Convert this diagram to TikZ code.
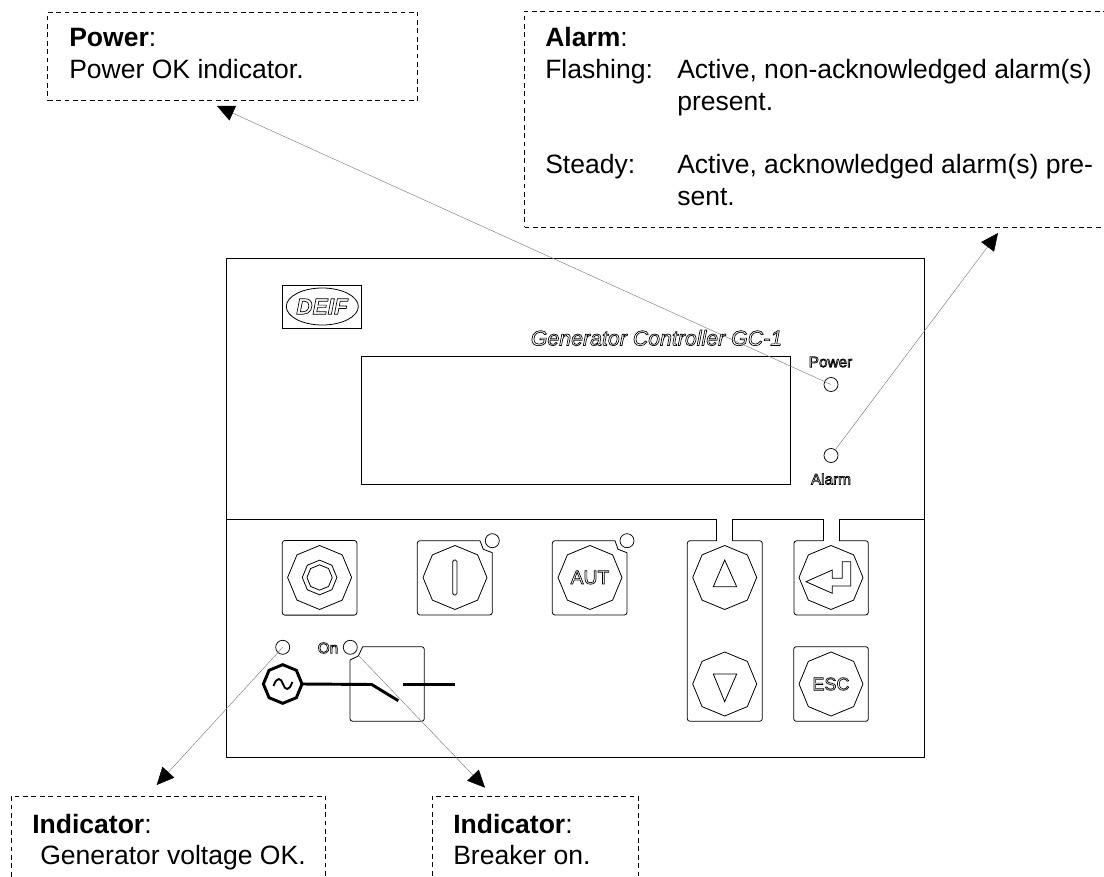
\documentclass[tikz,border=0pt]{standalone}
\usepackage{fontspec}
\setmainfont{Liberation Sans}
\usepackage{xcolor}
\definecolor{lgray}{HTML}{808080}
\usepackage{tikz}
\usetikzlibrary{arrows.meta}
\usetikzlibrary{shapes.geometric}
\newcommand{\outl}{\special{pdf:literal direct 1 Tr 0.5 w}}
\tikzset{
  panelline/.style={line width=.7pt},
  keyline/.style={line width=.6pt},
  genline/.style={line width=2.2pt,line cap=butt},
  callout/.style={draw,dashed,line width=.6pt,dash pattern=on 3.6pt off 2.7pt,inner sep=0,outer sep=0},
  calltext/.style={anchor=base west,inner sep=0,font=\fontsize{19.9}{22}\selectfont},
  leader/.style={draw=lgray,line width=.35pt,-{Triangle[length=13pt,width=12pt,color=black]}},
  led/.style={draw,circle,line width=.55pt,minimum size=10.5pt,inner sep=0},
  octkey/.style={draw,regular polygon,regular polygon sides=8,shape border rotate=22.5,minimum size=48pt,inner sep=0,outer sep=0,line width=.6pt},
  keybox/.style={draw,rectangle,rounded corners=2pt,minimum size=56pt,inner sep=0,line width=.6pt},
  outlined/.style={inner sep=0,font=\fontsize{#1}{#1}\selectfont\outl}
}
\begin{document}
\begin{tikzpicture}[x=.75pt,y=-.75pt]
\clip (0,0) rectangle (1104,877);
\node[callout,minimum width=277.5pt,minimum height=66pt] (powerbox) at (232.7,56) {};
\node[callout,minimum width=500pt,minimum height=162pt] (alarmbox) at (858,119) {};
\node[callout,minimum width=236pt,minimum height=120pt] (genbox) at (168.5,876) {};
\node[callout,minimum width=154.5pt,minimum height=120pt] (brkbox) at (535,876) {};
\node[calltext] (powerhead) at (69,47) {\textbf{Power}:};
\node[calltext] (powertext) at (69,79) {Power OK indicator.};
\node[calltext] (alarmhead) at (545,47) {\textbf{Alarm}:};
\node[calltext] (flashlabel) at (545,79) {Flashing:};
\node[calltext] (flashtext) at (677,79) {Active, non-acknowledged alarm(s)};
\node[calltext] (flashmore) at (677,111) {present.};
\node[calltext] (steadylabel) at (545,174) {Steady:};
\node[calltext] (steadytext) at (677,174) {Active, acknowledged alarm(s) pre-};
\node[calltext] (steadymore) at (677,206) {sent.};
\node[calltext] (genhead) at (32,833) {\textbf{Indicator}:};
\node[calltext] (gentext) at (40,864) {Generator voltage OK.};
\node[calltext] (brkhead) at (453,833) {\textbf{Indicator}:};
\node[calltext] (brktext) at (453,864) {Breaker on.};
\draw[panelline] (226,258.7) rectangle (924,757);
\draw[panelline] (361,356) rectangle (790,484);
\draw[keyline] (282.3,285) rectangle (361.7,328.3);
\draw[keyline] (322.3,306.5) ellipse (36 and 18.5);
\node[outlined=17] (deif) at (322.3,306.5) {\textbf{\textit{DEIF}}};
\node[outlined=16,anchor=base] (title) at (656.5,345.5) {\textit{Generator Controller GC-1}};
\node[outlined=11.5] (powerlabel) at (830.5,362) {Power};
\node[outlined=11.5] (alarmlabel) at (831,479) {Alarm};
\node[outlined=11.5] (onlabel) at (328,648) {On};
\node[led] (powerled) at (831,384.5) {};
\node[led] (alarmled) at (831,455.5) {};
\node[led] (autoled) at (492.3,540.7) {};
\node[led] (autled) at (627,540.7) {};
\node[led] (genled) at (282.7,647.3) {};
\node[led] (onled) at (350.3,647.3) {};
\draw[panelline] (226,519) -- (716.7,519) -- (716.7,540.7);
\draw[keyline,rounded corners=2pt] (716.7,540.7) -- (687.3,540.7) -- (687.3,721.3) -- (762.3,721.3) -- (762.3,540.7) -- (732.7,540.7);
\draw[panelline] (732.7,540.7) -- (732.7,519) -- (823.3,519) -- (823.3,540.7);
\draw[keyline,rounded corners=2pt] (823.3,540.7) -- (794,540.7) -- (794,615) -- (868.3,615) -- (868.3,540.7) -- (839,540.7);
\draw[panelline] (839,540.7) -- (839,519) -- (924,519);
\node[keybox] (stopbox) at (319.6,577.8) {};
\node[keybox] (escbox) at (831,684) {};
\draw[keyline,rounded corners=2pt] (480,540.7) -- (417.3,540.7) -- (417.3,615) -- (492.3,615) -- (492.3,552.7);
\draw[keyline] (480,540.7) -- (483.3,549.3) -- (492.3,552.7);
\draw[keyline,rounded corners=2pt] (615,540.7) -- (552.3,540.7) -- (552.3,615) -- (627,615) -- (627,552.7);
\draw[keyline] (615,540.7) -- (618,549.3) -- (627,552.7);
\draw[keyline,rounded corners=2pt] (362.7,646.7) -- (424.3,646.7) -- (424.3,721.3) -- (350,721.3) -- (350,660);
\draw[keyline] (362.7,646.7) -- (358.3,656) -- (350,660);
\node[octkey] (stopkey) at (319.6,577.5) {};
\node[octkey,minimum size=26pt] (stopouter) at (319.6,577.5) {};
\node[octkey,minimum size=19pt] (stopinner) at (319.6,577.5) {};
\node[octkey] (startkey) at (455,577.5) {};
\draw[keyline,rounded corners=1.2pt] (452.7,560) rectangle (457,595);
\node[octkey] (autkey) at (590,577.5) {\outl\fontsize{14.5}{14.5}\selectfont AUT};
\node[octkey] (upkey) at (724.7,577.5) {};
\node[octkey] (downkey) at (724.7,684) {};
\node[octkey] (enterkey) at (831,577.5) {};
\node[octkey] (esckey) at (831,684) {\outl\fontsize{13.5}{13.5}\selectfont ESC};
\draw[keyline] (724.7,560) -- (736.7,586.7) -- (713.3,586.7) -- cycle;
\draw[keyline] (713.3,674) -- (736.7,674) -- (724.7,701.7) -- cycle;
\draw[keyline] (806,581.7) -- (832.3,570) -- (832.3,578.3) -- (842.3,578.3) -- (842.3,561.7) -- (850.7,561.7) -- (850.7,586) -- (832.3,586) -- (832.3,593.3) -- cycle;
\node[octkey,minimum size=29pt,genline] (gensym) at (282.7,684) {};
\draw[line width=1.4pt] (273.5,686) .. controls (277,676) and (281,678) .. (283,684) .. controls (285,690) and (289,692) .. (292.3,682);
\coordinate (brkpivot) at (371.7,684.5);
\coordinate (brkblade) at (398.3,700.7);
\coordinate (brkleft) at (403.3,684.5);
\coordinate (brkright) at (455,684.5);
\draw[genline] (gensym.east) -- (brkpivot) -- (brkblade);
\draw[genline,line width=2.6pt] (brkleft) -- (brkright);
\coordinate (powertip) at (217,106);
\coordinate (alarmtip) at (998,233);
\coordinate (gentip) at (156.7,785);
\coordinate (brktip) at (485,787.7);
\coordinate (brkstart) at (359,656);
\draw[leader] (powerled.center) -- (powertip);
\draw[leader] (alarmled) -- (alarmtip);
\draw[leader] (genled.center) -- (gentip);
\draw[leader] (brkstart) -- (brktip);
\end{tikzpicture}
\end{document}
